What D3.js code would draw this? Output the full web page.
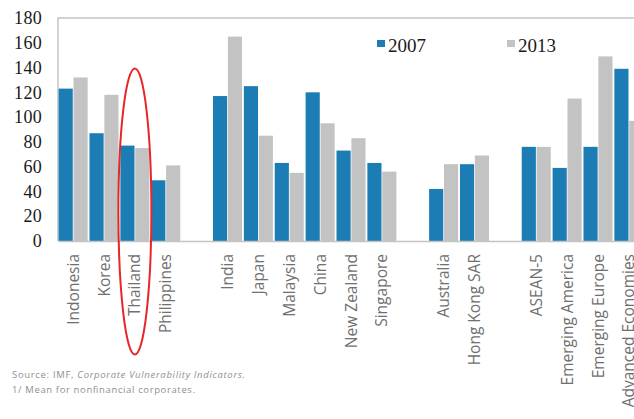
<!DOCTYPE html>
<html>
<head>
<meta charset="utf-8">
<script src="https://cdn.jsdelivr.net/npm/d3@7"></script>
<style>
  html, body { margin: 0; padding: 0; background: #ffffff; }
  svg { display: block; }
</style>
</head>
<body>
<svg id="chart" width="634" height="419"></svg>
<script>
// ---- data ----
const categories = ["Indonesia", "Korea", "Thailand", "Philippines", "",
  "India", "Japan", "Malaysia", "China", "New Zealand", "Singapore", "",
  "Australia", "Hong Kong SAR", "",
  "ASEAN-5", "Emerging America", "Emerging Europe", "Advanced Economies"];
const values2007 = [123, 87, 77, 49, null, 117, 125, 63, 120, 73, 63, null, 42, 62, null, 76, 59, 76, 139];
const values2013 = [132, 118, 75, 61, null, 165, 85, 55, 95, 83, 56, null, 62, 69, null, 76, 115, 149, 97];
const seriesNames = ["2007", "2013"];
const yTicks = [0, 20, 40, 60, 80, 100, 120, 140, 160, 180];
const highlighted = "Thailand";
const sourceNote = ["Source: IMF, ", "Corporate Vulnerability Indicators."];
const footNote = "1/ Mean for nonfinancial corporates.";

const colors = { "2007": "#1b7db4", "2013": "#c3c3c3" };

const svg = d3.select("#chart");

const plot = { left: 58, top: 18, bottom: 241, right: 644 };

const x = d3.scaleBand()
  .domain(d3.range(categories.length))
  .range([plot.left, plot.right])
  .paddingInner(0.06)
  .paddingOuter(0.02);

const xSub = d3.scaleBand()
  .domain(seriesNames)
  .range([0, x.bandwidth()])
  .paddingInner(0.05);

const y = d3.scaleLinear().domain([0, 180]).range([plot.bottom, plot.top]);

// plot border (left and top)
svg.append("path")
  .attr("d", `M${plot.left},${plot.bottom} L${plot.left},${plot.top} L${plot.right},${plot.top}`)
  .attr("fill", "none")
  .attr("stroke", "#c4c4c4")
  .attr("stroke-width", 1.5);

// bars
const rows = categories.map((c, i) => ({ i, c, v: { "2007": values2007[i], "2013": values2013[i] } }));
const groups = svg.append("g").selectAll("g")
  .data(rows.filter(r => r.c !== ""))
  .join("g")
  .attr("transform", d => `translate(${x(d.i)},0)`);

groups.selectAll("rect")
  .data(d => seriesNames.map(s => ({ s, v: d.v[s] })))
  .join("rect")
  .attr("x", d => xSub(d.s))
  .attr("width", xSub.bandwidth())
  .attr("y", d => y(d.v))
  .attr("height", d => y(0) - y(d.v))
  .attr("fill", d => colors[d.s]);

// y axis
const yAxis = svg.append("g")
  .attr("transform", `translate(${plot.left},0)`)
  .call(d3.axisLeft(y).tickValues(yTicks).tickSize(0).tickPadding(16));
yAxis.select(".domain").remove();
yAxis.selectAll("text")
  .attr("font-family", "'Liberation Serif', 'Times New Roman', serif")
  .attr("font-size", 18)
  .attr("letter-spacing", 0.3)
  .attr("fill", "#1a1a1a");

// x axis
const xAxis = svg.append("g")
  .attr("transform", `translate(0,${plot.bottom})`)
  .call(d3.axisBottom(x).tickSize(0).tickFormat(i => categories[i]));
xAxis.select(".domain")
  .attr("stroke", "#c4c4c4")
  .attr("stroke-width", 1.5);
xAxis.selectAll("text")
  .attr("transform", "rotate(-90)")
  .attr("x", -13)
  .attr("y", 0)
  .attr("dy", "0.36em")
  .attr("text-anchor", "end")
  .attr("font-family", "'Open Sans', 'Noto Sans', sans-serif")
  .attr("font-size", 15.5)
  .attr("fill", "#707070");

// legend
const legend = svg.append("g");
const legendX = { "2007": 377, "2013": 507 };
seriesNames.forEach(s => {
  legend.append("rect")
    .attr("x", legendX[s]).attr("y", 40)
    .attr("width", 8).attr("height", 7)
    .attr("fill", colors[s]);
  legend.append("text")
    .attr("x", legendX[s] + 11).attr("y", 51.5)
    .attr("font-family", "'Liberation Serif', 'Times New Roman', serif")
    .attr("font-size", 19)
    .attr("fill", "#1a1a1a")
    .text(s);
});

// highlight ellipse
const hi = categories.indexOf(highlighted);
svg.append("ellipse")
  .attr("cx", x(hi) + x.bandwidth() / 2)
  .attr("cy", 211.5)
  .attr("rx", 16.5)
  .attr("ry", 143)
  .attr("fill", "none")
  .attr("stroke", "#e8262a")
  .attr("stroke-width", 2);

// notes
const note1 = svg.append("text")
  .attr("x", 12).attr("y", 378)
  .attr("font-family", "'Open Sans', 'Noto Sans', sans-serif")
  .attr("font-size", 9.5)
  .attr("textLength", 233)
  .attr("lengthAdjust", "spacing")
  .attr("fill", "#8f8f8f");
note1.append("tspan").text(sourceNote[0]);
note1.append("tspan").attr("font-style", "italic").text(sourceNote[1]);

svg.append("text")
  .attr("x", 12).attr("y", 393)
  .attr("font-family", "'Open Sans', 'Noto Sans', sans-serif")
  .attr("font-size", 9.5)
  .attr("textLength", 183)
  .attr("lengthAdjust", "spacing")
  .attr("fill", "#8f8f8f")
  .text(footNote);
</script>
</body>
</html>
